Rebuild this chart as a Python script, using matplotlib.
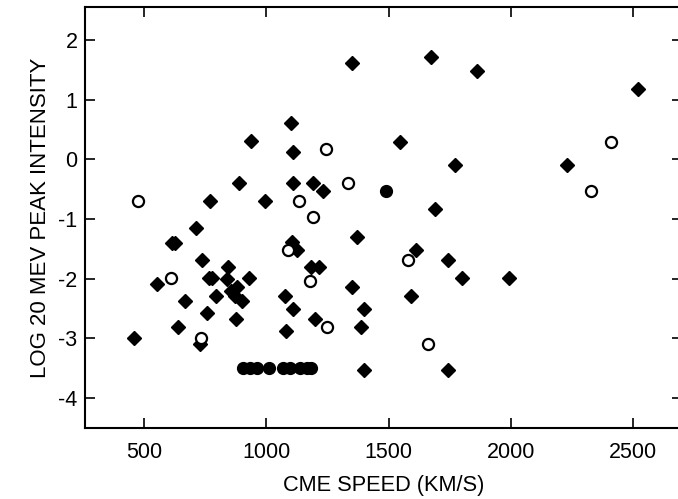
import matplotlib
matplotlib.use("Agg")
import matplotlib.pyplot as plt
import numpy as np

plt.rcParams['font.family'] = ['Liberation Sans', 'DejaVu Sans']
plt.rcParams['axes.unicode_minus'] = False

# filled diamonds
dia_x = np.array([1349, 1674, 1862, 2519, 1100, 937, 1547, 1110, 1772, 2229,
                  891, 1110, 1191, 1231, 770, 994, 1689, 715, 1372, 1104,
                  614, 628, 1127, 1614, 736, 1741, 845, 1182, 1215, 765,
                  777, 840, 929, 1800, 1990, 552, 881, 1349, 858, 872,
                  797, 1076, 1590, 668, 902, 1110, 1399, 759, 876, 1198,
                  638, 1387, 1080, 460, 729, 1398, 1741])
dia_y = np.array([1.61, 1.71, 1.49, 1.18, 0.61, 0.31, 0.30, 0.12, -0.09, -0.09,
                  -0.39, -0.39, -0.39, -0.52, -0.69, -0.69, -0.83, -1.15, -1.30, -1.38,
                  -1.40, -1.40, -1.51, -1.52, -1.69, -1.69, -1.80, -1.81, -1.81, -1.99,
                  -1.99, -2.00, -1.99, -1.99, -1.99, -2.08, -2.13, -2.14, -2.21, -2.28,
                  -2.28, -2.29, -2.29, -2.38, -2.38, -2.51, -2.51, -2.57, -2.67, -2.68,
                  -2.81, -2.81, -2.88, -2.99, -3.09, -3.52, -3.52])

# open circles
open_x = np.array([1245, 2408, 1336, 477, 1136, 2327, 1192, 1090, 1580, 613,
                   1181, 1247, 732, 1663])
open_y = np.array([0.18, 0.30, -0.39, -0.69, -0.69, -0.52, -0.97, -1.51, -1.69, -1.99,
                   -2.04, -2.81, -2.99, -3.09])

# filled circles
dot_x = np.array([1490, 906, 933, 961, 1010, 1069, 1097, 1138, 1165, 1185])
dot_y = np.array([-0.53, -3.5, -3.5, -3.5, -3.5, -3.5, -3.5, -3.5, -3.5, -3.5])

fig = plt.figure(figsize=(6.78, 4.99), dpi=100)
ax = fig.add_axes([0.1254, 0.1423, 0.881, 0.843])

ax.plot(dia_x, dia_y, 'D', color='black', markersize=7.5, linestyle='none')
ax.plot(open_x, open_y, 'o', markerfacecolor='white', markeredgecolor='black',
        markeredgewidth=1.6, markersize=8, linestyle='none')
ax.plot(dot_x, dot_y, 'o', color='black', markersize=8.5, linestyle='none')

ax.set_xlim(260, 2700)
ax.set_ylim(-4.5, 2.55)
ax.set_xticks([500, 1000, 1500, 2000, 2500])
ax.set_yticks([-4, -3, -2, -1, 0, 1, 2])

ax.tick_params(direction='in', length=7, width=1.2, top=True, right=True,
               labelsize=15.5)
ax.tick_params(axis='y', pad=5.5)
ax.tick_params(axis='x', pad=10)
for s in ax.spines.values():
    s.set_linewidth(1.5)

ax.set_xlabel('CME SPEED (KM/S)', fontsize=15.7, labelpad=9)
ax.set_ylabel('LOG 20 MEV PEAK INTENSITY', fontsize=16, labelpad=5)

fig.savefig('out.png', dpi=100)
